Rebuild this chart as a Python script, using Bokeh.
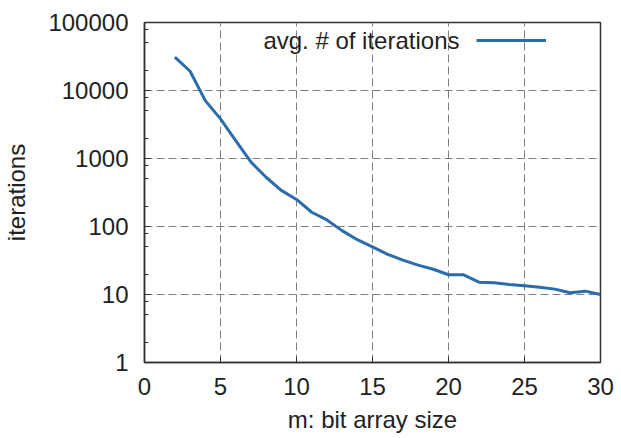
from bokeh.plotting import figure
from bokeh.models import (FixedTicker, PrintfTickFormatter, Label, Legend, LegendItem, Range1d)
from bokeh.embed import file_html
from bokeh.resources import INLINE

m_values = list(range(2, 31))
avg_iterations = [31000, 19200, 7100, 3830, 1830, 890, 530, 340, 250, 162, 125, 87,
                  64, 50, 39, 32, 27, 23.5, 19.5, 19.5, 15.2, 14.9, 14.0, 13.5, 12.8,
                  12.0, 10.6, 11.2, 10.0]
x_ticks = [0, 5, 10, 15, 20, 25, 30]
y_ticks = [1, 10, 100, 1000, 10000, 100000]
y_minor = [b * f for b in [1, 10, 100, 1000, 10000] for f in (2, 5, 8)]
legend_text = "avg. # of iterations"
x_label = "m: bit array size"
y_label = "iterations"

FONT = "Liberation Sans"
TXT = "#222222"

p = figure(width=621, height=438, y_axis_type="log", output_backend="svg",
           toolbar_location=None, x_range=Range1d(0, 30), y_range=Range1d(1, 100000),
           min_border_left=143, min_border_right=21, min_border_top=22, min_border_bottom=76)

r = p.line(m_values, avg_iterations, line_color="#2b6cab", line_width=3)

p.xaxis.ticker = FixedTicker(ticks=x_ticks)
p.yaxis.ticker = FixedTicker(ticks=y_ticks, minor_ticks=y_minor)
p.yaxis.formatter = PrintfTickFormatter(format="%d")
p.xaxis.formatter = PrintfTickFormatter(format="%d")

for ax in (p.xaxis, p.yaxis):
    ax.major_label_text_font = FONT
    ax.major_label_text_font_size = "24px"
    ax.major_label_text_color = TXT
    ax.axis_label_text_font = FONT
    ax.axis_label_text_font_size = "24px"
    ax.axis_label_text_font_style = "normal"
    ax.axis_label_text_color = TXT
    ax.major_tick_out = 0
    ax.major_tick_in = 6
    ax.minor_tick_out = 0
    ax.minor_tick_in = 4
    ax.axis_line_color = "#333333"
    ax.axis_line_width = 1.5
    ax.major_tick_line_color = "#333333"
    ax.minor_tick_line_color = "#333333"

p.xaxis.axis_label = x_label
p.yaxis.axis_label = y_label
p.xaxis.major_label_standoff = 15
p.xaxis.axis_label_standoff = 8
p.yaxis.major_label_standoff = 16
p.yaxis.axis_label_standoff = 15

p.xgrid.ticker = FixedTicker(ticks=x_ticks)
p.ygrid.ticker = FixedTicker(ticks=y_ticks)
for g in (p.xgrid, p.ygrid):
    g.grid_line_color = "#7f7f7f"
    g.grid_line_dash = "8 4"
    g.grid_line_width = 1

p.outline_line_color = "#333333"
p.outline_line_width = 1.5

p.add_layout(Label(x=315, y=322, x_units="screen", y_units="screen", text=legend_text,
                   text_align="right", text_baseline="middle", text_font=FONT,
                   text_font_size="24px", text_color=TXT))

legend = Legend(items=[LegendItem(label=" ", renderers=[r])], location=(332, 312),
                glyph_width=70, glyph_height=20, label_width=0, label_standoff=0,
                padding=0, margin=0, spacing=0, border_line_color=None,
                background_fill_alpha=0, label_text_font_size="1px")
p.add_layout(legend)

p.background_fill_color = "white"
p.border_fill_color = "white"

open("out.html", "w").write(file_html(p, INLINE))
